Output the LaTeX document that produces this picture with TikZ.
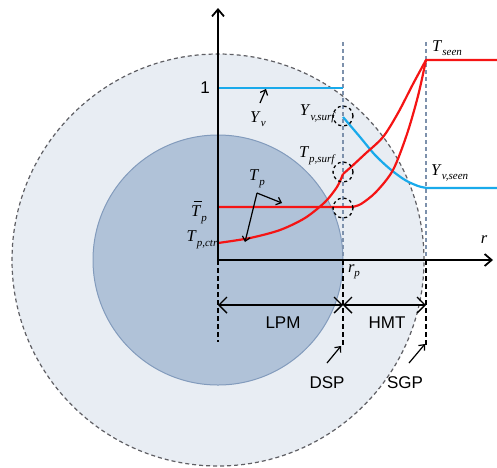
\documentclass[tikz,border=0pt]{standalone}
\usepackage{fontspec}
\setmainfont{Liberation Serif}
\newfontfamily\arialf{Liberation Sans}
\usetikzlibrary{arrows.meta}
\definecolor{redc}{RGB}{245,20,20}
\definecolor{bluec}{RGB}{25,170,235}
\definecolor{outerfill}{RGB}{232,237,243}
\definecolor{innerfill}{RGB}{176,194,216}
\definecolor{inneredge}{RGB}{130,155,188}
\definecolor{vdash}{RGB}{125,145,172}
\definecolor{odash}{RGB}{95,95,100}
\newcommand\lbl[2]{\textit{#1}\raisebox{-0.6ex}{\fontsize{11}{11}\selectfont\textit{#2}}}
\begin{document}
\begin{tikzpicture}[x=1pt,y=-1pt,font=\fontsize{16.5}{16.5}\selectfont,
  axis/.style={line width=2pt,-{Straight Barb[length=7pt,width=12pt,line width=1.8pt]}},
  redline/.style={redc,line width=2.2pt},
  blueline/.style={bluec,line width=2.2pt},
  vguide/.style={vdash,line width=1.3pt,dash pattern=on 4pt off 3pt},
  lguide/.style={black,line width=1.2pt,dash pattern=on 5pt off 3pt},
  dimarr/.style={line width=1.4pt,{Straight Barb[length=8pt,width=16pt,line width=1.4pt]}-{Straight Barb[length=8pt,width=16pt,line width=1.4pt]}},
  smallarr/.style={line width=1.2pt,-{Straight Barb[length=4.5pt,width=8pt,line width=1.2pt]}},
  dcirc/.style={circle,draw=black,dashed,line width=1.3pt,minimum size=20pt,inner sep=0pt},
  sans/.style={font=\arialf\fontsize{17}{17}\selectfont},
  lab/.style={inner sep=0pt}]
\useasboundingbox (0,0) rectangle (497,467);
% circles
\coordinate (O) at (218,260);
\fill[outerfill] (O) circle[radius=206pt];
\draw[odash,line width=1.2pt,dash pattern=on 4pt off 3pt] (O) circle[radius=206pt];
\fill[innerfill,draw=inneredge,line width=1pt] (O) circle[radius=125pt];
% key coordinates
\coordinate (Ytop) at (218,8);
\coordinate (Rend) at (493,260);
\coordinate (Rp) at (343,260);
\coordinate (Rs) at (426,260);
\coordinate (RpTop) at (343,42);
\coordinate (RsTop) at (426,42);
\coordinate (Lbot) at (218,342);
\coordinate (RpBot) at (343,346);
\coordinate (RsBot) at (426,346);
\coordinate (DL) at (218,305);
\coordinate (DM) at (343,305);
\coordinate (DR) at (426,305);
% guides
\draw[vguide] (RpTop) -- (Rp);
\draw[vguide] (RsTop) -- (Rs);
\draw[lguide] (O) -- (Lbot);
\draw[lguide] (Rp) -- (RpBot);
\draw[lguide] (Rs) -- (RsBot);
% curves
\coordinate (Yv0) at (218,88);
\coordinate (Yv1) at (343,88);
\draw[blueline] (Yv0) -- (Yv1);
\coordinate (Bs) at (343,117);
\coordinate (Bseen) at (427,188);
\coordinate (Bend) at (497,188);
\draw[blueline] plot[smooth,tension=0.5] coordinates {(343,117) (360,137) (375,155) (390,169) (405,180) (418,186) (427,188)} -- (Bend);
\coordinate (Tctr) at (218,243);
\coordinate (Tsurf) at (343,174);
\coordinate (Tseen) at (426,60);
\coordinate (Tend) at (497,60);
\draw[redline] plot[smooth,tension=0.5] coordinates {(218,243) (250,238) (280,230) (305,218) (325,202) (337,187) (343,174)};
\draw[redline,line join=round] plot[smooth,tension=0.5] coordinates {(343,174) (351,167) (365,154) (383,137) (398,113) (413,84) (426,60)} -- (Tend);
\coordinate (Tbar0) at (218,207);
\draw[redline] (Tbar0) -- (352,207) plot[smooth,tension=0.5] coordinates {(352,207) (361,204) (376,192) (393,170) (407,134) (418,96) (426,60)};
% dashed circles
\node[dcirc] (c1) at (343,116) {};
\node[dcirc] (c2) at (343,172) {};
\node[dcirc] (c3) at (343,208) {};
% axes
\draw[axis] (O) -- (Ytop);
\draw[axis] (O) -- (Rend);
% dimension arrows
\draw[dimarr] (DL) -- (DM);
\draw[dimarr] (DM) -- (DR);
% labels
\node[lab,sans] (one) at (205,88) {1};
\node[lab] (lYv) at (258,119) {\lbl{Y}{v}};
\node[lab,anchor=east] (lYvs) at (336,114) {\lbl{Y}{v,surf}};
\node[lab,anchor=east] (lTps) at (336,156) {\lbl{T}{p,surf}};
\node[lab,anchor=west] (lTseen) at (432,48) {\lbl{T}{seen}};
\node[lab,anchor=west] (lYseen) at (431,173) {\lbl{Y}{v,seen}};
\node[lab] (lTp) at (257,179) {\lbl{T}{p}};
\node[lab] (lTbar) at (199,212) {\rlap{\raisebox{2.05ex}{\hspace{0.15em}\rule{0.5em}{0.6pt}}}\lbl{T}{p}};
\node[lab] (lTctr) at (202,240) {\lbl{T}{p,ctr}};
\node[lab] (lrp) at (354,272) {\lbl{r}{p}};
\node[lab] (lr) at (484,240) {\textit{r}};
\node[lab,sans] (lLPM) at (283,323) {LPM};
\node[lab,sans] (lHMT) at (387,323) {HMT};
\node[lab,sans] (lDSP) at (327,383) {DSP};
\node[lab,sans] (lSGP) at (405,383) {SGP};
% pointer arrows
\coordinate (YvA) at (260,103);
\coordinate (YvB) at (266,89);
\draw[smallarr] (YvA) -- (YvB);
\coordinate (TpO) at (257,193);
\coordinate (TpA) at (282,203);
\coordinate (TpB) at (245,242);
\draw[smallarr] (TpO) -- (TpA);
\draw[smallarr] (TpO) -- (TpB);
\coordinate (DspA) at (327,363);
\coordinate (DspB) at (341,346);
\draw[smallarr] (DspA) -- (DspB);
\coordinate (SgpA) at (409,363);
\coordinate (SgpB) at (425,344);
\draw[smallarr] (SgpA) -- (SgpB);
\end{tikzpicture}
\end{document}
